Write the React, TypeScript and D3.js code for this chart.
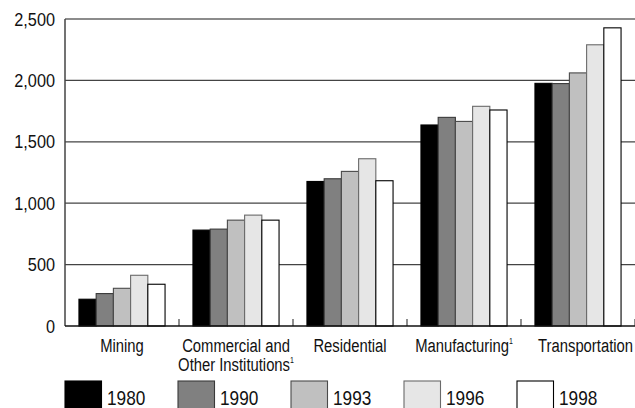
import React from "react";
import * as d3 from "d3";

const categories = ["Mining", "Commercial and|Other Institutions¹", "Residential", "Manufacturing¹", "Transportation"];
const years = ["1980", "1990", "1993", "1996", "1998"];
const v1980 = [218, 781, 1177, 1637, 1976];
const v1990 = [264, 789, 1199, 1699, 1974];
const v1993 = [307, 862, 1259, 1666, 2061];
const v1996 = [413, 903, 1362, 1789, 2290];
const v1998 = [340, 862, 1183, 1759, 2428];
const seriesValues = [v1980, v1990, v1993, v1996, v1998];
const yTicks = [0, 500, 1000, 1500, 2000, 2500];
const fills = ["#000000", "#808080", "#c0c0c0", "#e6e6e6", "#ffffff"];
const strokes = ["#000000", "#3a3a3a", "#4a4a4a", "#6a6a6a", "#000000"];

const W = 635, H = 408;
const left = 65, right = 635, top = 19, bottom = 326;
const FONT = "'Liberation Sans', Arial, sans-serif";

function renderLabel(label: string) {
  const lines = label.split("|");
  return lines.map((ln, i) => {
    const sup = ln.endsWith("¹");
    const txt = sup ? ln.slice(0, -1) : ln;
    return (
      <tspan key={i} x={0} y={i * 19}>
        {txt}
        {sup ? <tspan fontSize={9} dy={-8}>1</tspan> : null}
      </tspan>
    );
  });
}

export default function App() {
  const x0 = d3.scaleBand<string>().domain(categories).range([left, right]).paddingInner(0).paddingOuter(0);
  const x1 = d3.scaleBand<string>().domain(years).range([0, x0.bandwidth()]).paddingInner(0).paddingOuter(0.81);
  const y = d3.scaleLinear().domain([0, 2500]).range([bottom, top]);
  const legendX = d3.scaleBand<string>().domain(years).range([65, 630]).paddingInner(0).paddingOuter(0);

  return (
    <svg width={W} height={H} style={{ position: "absolute", left: 0, top: 0, background: "#fff" }} fontFamily={FONT}>
      {yTicks.map((t) => (
        <g key={t}>
          {t > 0 && (
            <line x1={left} x2={right} y1={y(t)} y2={y(t)} stroke={t === 2500 ? "#1a1a1a" : "#444"} strokeWidth={1.2} />
          )}
          <text transform={`translate(55,${y(t)}) scale(0.88,1)`} dy="0.36em" textAnchor="end" fontSize={18.5} fill="#111">
            {d3.format(",")(t)}
          </text>
        </g>
      ))}
      {categories.map((c, ci) => (
        <g key={c} transform={`translate(${x0(c)},0)`}>
          {years.map((yr, si) => (
            <rect
              key={yr}
              x={x1(yr)}
              y={y(seriesValues[si][ci])}
              width={x1.bandwidth()}
              height={bottom - y(seriesValues[si][ci])}
              fill={fills[si]}
              stroke={strokes[si]}
              strokeWidth={1.1}
            />
          ))}
        </g>
      ))}
      {categories.map((c) => (
        <line key={"tk" + c} x1={(x0(c) as number) + x0.bandwidth()} x2={(x0(c) as number) + x0.bandwidth()} y1={bottom - 7} y2={bottom} stroke="#444" strokeWidth={1.2} />
      ))}
      <line x1={left} x2={left} y1={top} y2={bottom} stroke="#444" strokeWidth={1.5} />
      <line x1={left} x2={right} y1={bottom} y2={bottom} stroke="#111" strokeWidth={1.5} />
      {categories.map((c, ci) => {
        const last = ci === categories.length - 1;
        const cx = last ? right - 2 : (x0(c) as number) + x0.bandwidth() / 2;
        return (
          <text key={"lb" + c} transform={`translate(${cx},352) scale(0.78,1)`} textAnchor={last ? "end" : "middle"} fontSize={19} fill="#111">
            {renderLabel(c)}
          </text>
        );
      })}
      {years.map((yr, i) => (
        <g key={"lg" + yr} transform={`translate(${legendX(yr)},381)`}>
          <rect x={0} y={0} width={36.5} height={32} fill={fills[i]} stroke={strokes[i]} strokeWidth={1.1} />
          <text transform="translate(42,23.5) scale(0.82,1)" fontSize={21} fill="#111">{yr}</text>
        </g>
      ))}
    </svg>
  );
}
